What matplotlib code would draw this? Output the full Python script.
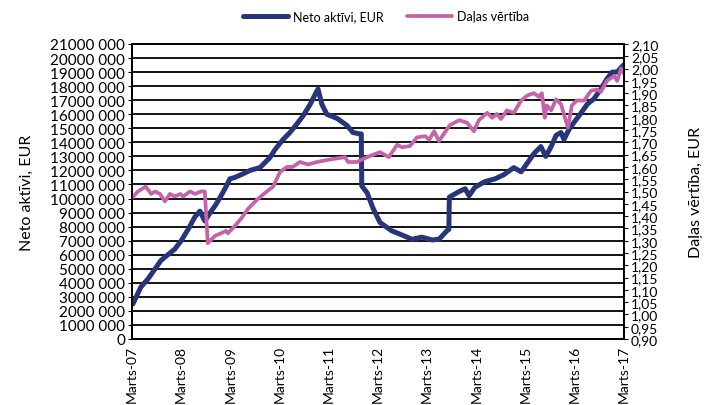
import numpy as np
import matplotlib
matplotlib.use("Agg")
import matplotlib.pyplot as plt
from matplotlib.ticker import FuncFormatter, MultipleLocator

# years since March 2007
netoT = [0.02, 0.18, 0.33, 0.47, 0.59, 0.73, 0.87, 1.00, 1.14, 1.28, 1.38, 1.48,
         1.59, 1.71, 1.81, 1.89, 1.99, 2.09, 2.22, 2.40, 2.60, 2.80, 2.91, 3.07,
         3.21, 3.35, 3.48, 3.62, 3.72, 3.78, 3.86, 3.96, 4.17, 4.37, 4.49, 4.63,
         4.66, 4.67, 4.78, 4.90, 5.04, 5.28, 5.49, 5.69, 5.89, 6.10, 6.24, 6.40,
         6.44, 6.45, 6.65, 6.77, 6.85, 6.97, 7.17, 7.38, 7.56, 7.76, 7.91, 8.03,
         8.17, 8.31, 8.41, 8.52, 8.62, 8.72, 8.78, 8.88, 8.98, 9.13, 9.25, 9.39,
         9.53, 9.65, 9.76, 9.86, 9.96, 10.02]
# net assets, millions EUR
netoV = [2.5, 3.7, 4.3, 5.0, 5.6, 6.0, 6.4, 7.0, 7.8, 8.7, 9.1, 8.4,
         9.0, 9.6, 10.2, 10.7, 11.4, 11.5, 11.7, 12.0, 12.2, 12.9, 13.5, 14.2,
         14.7, 15.3, 15.9, 16.7, 17.4, 17.8, 16.7, 16.0, 15.7, 15.2, 14.7, 14.6,
         14.6, 10.9, 10.4, 9.3, 8.3, 7.7, 7.4, 7.1, 7.25, 7.05, 7.1, 7.7,
         7.8, 10.1, 10.5, 10.7, 10.2, 10.8, 11.2, 11.4, 11.7, 12.2, 11.9, 12.5,
         13.2, 13.7, 13.0, 13.7, 14.5, 14.7, 14.2, 14.9, 15.4, 16.1, 16.7, 17.1,
         17.8, 18.5, 19.0, 19.0, 19.4, 19.6]

dalaT = [0.00, 0.12, 0.28, 0.39, 0.47, 0.57, 0.67, 0.77, 0.87, 0.98, 1.04, 1.18,
         1.28, 1.40, 1.48, 1.54, 1.69, 1.81, 1.91, 1.95, 2.09, 2.22, 2.36, 2.56,
         2.74, 2.87, 3.01, 3.15, 3.27, 3.41, 3.58, 3.76, 4.02, 4.33, 4.39, 4.57,
         4.78, 5.04, 5.22, 5.39, 5.49, 5.65, 5.79, 5.96, 6.04, 6.14, 6.24, 6.34,
         6.46, 6.65, 6.81, 6.95, 7.05, 7.22, 7.32, 7.42, 7.50, 7.62, 7.76, 7.91,
         8.03, 8.17, 8.27, 8.33, 8.39, 8.43, 8.52, 8.62, 8.72, 8.80, 8.86, 8.94,
         9.04, 9.19, 9.33, 9.45, 9.53, 9.65, 9.80, 9.86, 9.94, 10.00]
dalaV = [1.474, 1.50, 1.52, 1.49, 1.50, 1.49, 1.46, 1.49, 1.48, 1.49, 1.48, 1.50,
         1.49, 1.50, 1.50, 1.29, 1.32, 1.33, 1.34, 1.33, 1.36, 1.39, 1.43, 1.47,
         1.50, 1.52, 1.58, 1.60, 1.60, 1.62, 1.61, 1.62, 1.63, 1.64, 1.62, 1.62,
         1.64, 1.66, 1.64, 1.69, 1.68, 1.685, 1.72, 1.725, 1.71, 1.745, 1.705, 1.735,
         1.77, 1.79, 1.78, 1.745, 1.79, 1.82, 1.80, 1.815, 1.795, 1.83, 1.82, 1.87,
         1.89, 1.90, 1.885, 1.90, 1.80, 1.85, 1.83, 1.875, 1.855, 1.80, 1.76, 1.85,
         1.87, 1.87, 1.91, 1.915, 1.905, 1.95, 1.97, 1.95, 2.00, 1.98]

xLabels = ["Marts-%02d" % y for y in range(7, 18)]

plt.rcParams['font.family'] = ['Lato', 'DejaVu Sans']

navy = "#27357a"
pink = "#c563aa"

fig = plt.figure(figsize=(7.12, 4.06), dpi=100)
ax = fig.add_axes([132/712, 1 - 340/406, 492/712, 295/406])
ax2 = ax.twinx()

ax.plot(netoT, np.array(netoV) * 1e6, color=navy, lw=3.6, solid_capstyle='round')
ax2.plot(dalaT, dalaV, color=pink, lw=2.7, solid_capstyle='round')

ax.set_xlim(0, 10)
ax.set_ylim(0, 21e6)
ax2.set_ylim(0.90, 2.10)
ax.yaxis.set_major_locator(MultipleLocator(1e6))
ax2.yaxis.set_major_locator(MultipleLocator(0.05))
ax.yaxis.set_major_formatter(FuncFormatter(
    lambda v, p: "0" if v < 1 else "%d 000" % round(v / 1000)))
ax2.yaxis.set_major_formatter(FuncFormatter(
    lambda v, p: ("%.2f" % v).replace('.', ',')))
ax.set_xticks(range(11))
ax.set_xticklabels(xLabels, rotation=90)

ax.grid(axis='y', color='black', lw=1.3)
ax.set_axisbelow(True)
for a in (ax, ax2):
    for s in a.spines.values():
        s.set_color('black')
        s.set_linewidth(1.3)
    a.tick_params(length=3, pad=2, colors='black')
ax.tick_params(axis='y', labelsize=11)
ax.tick_params(axis='x', labelsize=10, length=0, pad=4)
ax2.tick_params(axis='y', labelsize=10)

ax.set_ylabel("Neto aktīvi, EUR", fontsize=11.5, labelpad=12)
ax2.set_ylabel("Daļas vērtība, EUR", fontsize=11.5, labelpad=22)

lines = ax.get_lines() + ax2.get_lines()
fig.legend(lines, ["Neto aktīvi, EUR", "Daļas vērtība"], loc='upper center',
           bbox_to_anchor=(386/712, 1.0), ncol=2, frameon=False, fontsize=9,
           handlelength=3.6, columnspacing=1.8, handletextpad=0.4)

fig.savefig("out.png", dpi=100)
